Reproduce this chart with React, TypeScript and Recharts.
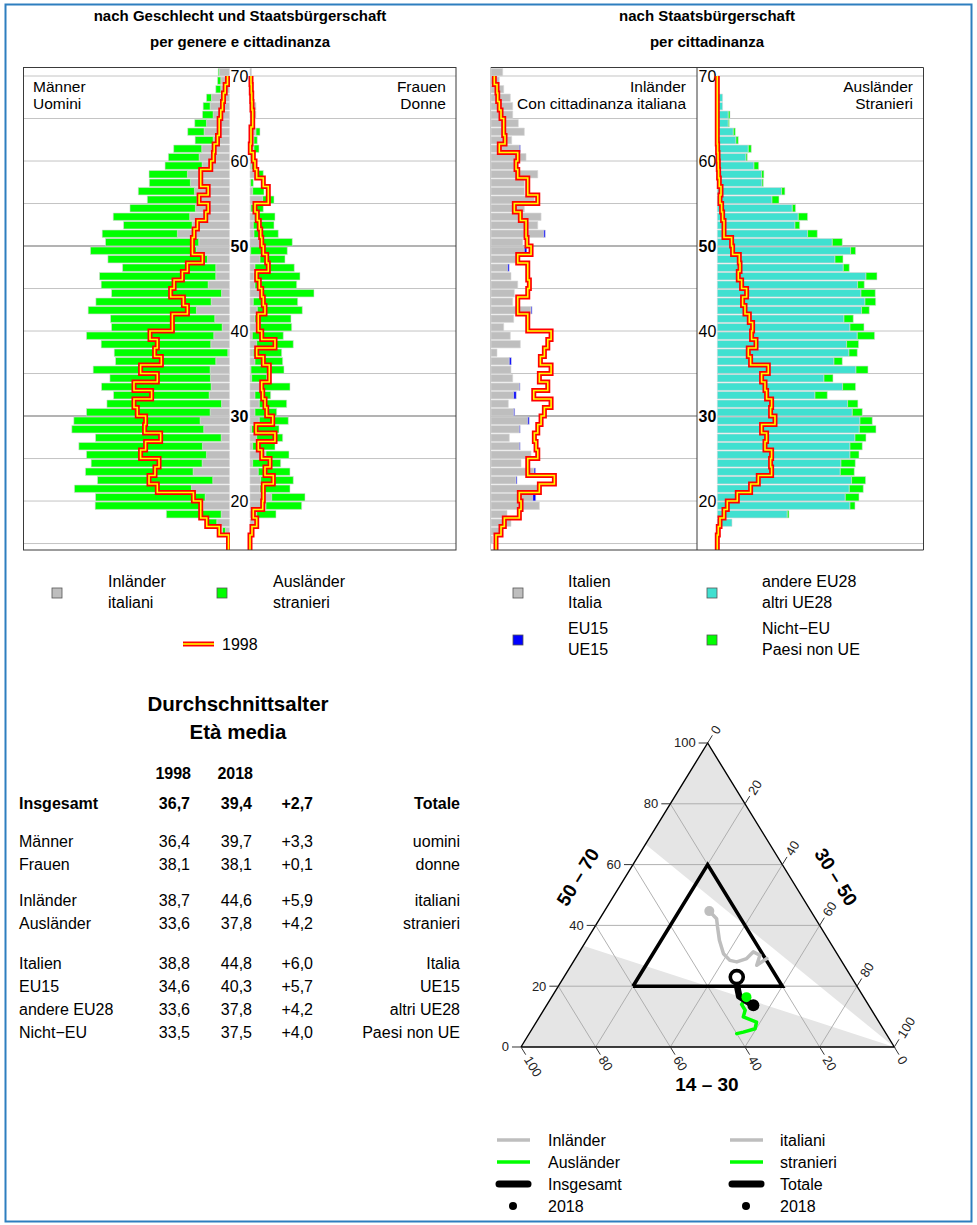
import React from 'react';
import { ComposedChart, Bar, Line, Area, Scatter, XAxis, YAxis, CartesianGrid } from 'recharts';

const FONT = '"Liberation Sans", Arial, Helvetica, sans-serif';

// ---------------- Age pyramids (values in px-units) ----------------
const ages = [15, 16, 17, 18, 19, 20, 21, 22, 23, 24, 25, 26, 27, 28, 29, 30, 31, 32, 33, 34, 35, 36, 37, 38, 39, 40, 41, 42, 43, 44, 45, 46, 47, 48, 49, 50, 51, 52, 53, 54, 55, 56, 57, 58, 59, 60, 61, 62, 63, 64, 65, 66, 67, 68, 69, 70];

const menInlaender = [0, 4, 12.7, 8.3, 26.3, 24.3, 38, 16.7, 36.3, 27.3, 23, 27, 8.3, 25.7, 29.3, 19.3, 8, 20.3, 18.3, 19, 19.3, 13.7, 1.7, 18.7, 15.7, 7.3, 14.7, 33, 18.3, 8, 21.3, 13.7, 13.7, 22, 33, 30.7, 52, 37.3, 39.7, 34, 32.3, 35, 39, 42, 27.3, 30.3, 27.7, 16.3, 25.3, 23, 16.3, 19.3, 18, 8.7, 8.7, 10.3];
const menAuslaender = [0, 3, 9.3, 54.7, 107.7, 109.4, 116.7, 115, 107.4, 110.7, 119.7, 123.3, 125.4, 131.6, 126, 123.4, 114.3, 95.4, 109.4, 100.3, 116.7, 100, 113.3, 109.3, 127, 110.4, 104, 108, 115, 109.7, 106.7, 116, 93, 99.3, 105.7, 93, 75, 68.4, 76.3, 65.3, 49.7, 56, 41, 38.3, 37, 30.7, 28, 18, 16.4, 11.7, 10.7, 7, 5, 5, 3.3, 1];
const men1998 = [1, 10.3, 22.7, 28.7, 28.7, 36, 72, 80.3, 74.3, 70.3, 88.7, 83.7, 68.7, 84.7, 83.7, 92, 95.3, 77.7, 95.3, 72, 88.7, 68, 74.7, 72, 79.3, 57, 57, 42, 46, 58.7, 55.3, 47, 42, 27, 37, 37, 35.3, 32, 23.7, 21.3, 30.3, 21.3, 28.7, 28.7, 18.7, 16, 15.3, 12, 10.3, 10.3, 8.7, 7, 6, 4.3, 2, 1];

const womenInlaender = [0, 2.7, 4, 6.7, 16, 21.7, 10, 10.7, 8.3, 2.7, 16, 2.7, 6.7, 1.7, 9.3, 5, 9.3, 5, 11.7, 1.7, 1, 5, 3.3, 6.7, 2.3, 6, 5, 7.3, 3.3, 13.3, 5, 4, 5, 10, 0.7, 10.7, 4, 3.3, 4.3, 1, 12.7, 2.7, 0.7, 5, 1.7, 0.7, 4, 4, 6, 1, 6, 6, 3, 1, 0.5, 1.5];
const womenAuslaender = [0, 0, 0, 19.3, 35.7, 33.3, 30, 32.6, 31.7, 28, 23, 22.3, 26, 27.3, 29, 21.7, 27.4, 15.7, 28.3, 15, 33, 27.7, 28.4, 36.6, 31, 35.7, 36, 45, 44.4, 50.7, 41.7, 46, 39.3, 25, 36.6, 31.6, 24.3, 20.7, 20.7, 12.3, 11.3, 11.3, 2.6, 8.3, 2.3, 2.6, 5, 3.3, 4, 0, 0, 0, 0, 0, 0, 0];
const women1998 = [0, 2, 6.7, 3.3, 12.7, 13.3, 13.3, 23.3, 15, 20, 11.7, 8.3, 25, 6, 22.7, 16.7, 15, 12.7, 11.7, 19.3, 19.3, 13.3, 6.7, 25, 11.7, 8.3, 8.3, 15, 13.3, 11.7, 9.3, 6.7, 18.3, 16.7, 13.3, 11.7, 10.7, 9.3, 7.3, 5, 18.3, 18.3, 13.3, 6.7, 5, 3.3, 0.3, 1, 1, 2.7, 2.7, 2, 1.7, 1.3, 1, 0.5];

const inlItalien = [1.7, 10.7, 20, 16, 48.3, 41.7, 46.7, 25, 43, 30, 40, 28.3, 18.3, 28.3, 36.7, 22.7, 17.3, 22.7, 28.3, 21.7, 20, 18.3, 6, 29.3, 19.3, 12.7, 22.7, 40, 21.7, 23.3, 26.7, 20, 16.7, 25, 33.3, 31.7, 52.7, 46.7, 50, 33.3, 43.3, 33.3, 33.3, 46.7, 23.3, 35, 28.3, 20.7, 33.3, 27.3, 21.7, 21.7, 19.3, 12.7, 8.3, 11.7];
const inlEU15 = [0, 0, 0, 0, 0, 3, 0, 1, 1.5, 0, 0, 0.8, 0, 0.8, 1.5, 1, 0, 2.5, 0.7, 0, 0, 2, 0, 0, 0, 0, 0, 1, 0, 0, 0, 0, 1.5, 0, 2.5, 0, 1.5, 0, 0, 0, 0, 0, 0, 0, 1.7, 0, 1, 0, 0, 0, 0, 0, 0, 0, 0, 0];
const inl1998 = [5, 10, 13.3, 28.3, 30, 28.3, 48.3, 63.3, 36.7, 36.7, 46.7, 45, 43.3, 46.7, 50, 53.3, 60, 42.7, 56.7, 48.3, 60, 49.3, 53.3, 56.7, 60, 36.7, 36.7, 26.7, 26.7, 36.7, 38.3, 36.7, 36.7, 26.7, 40, 36, 35, 35, 29.3, 23.3, 46.7, 36.7, 36.7, 26.7, 25, 26.7, 8.3, 14, 12.7, 12.7, 10, 8.3, 6.7, 6, 3.3, 1.7];

const auslEU28 = [0, 0, 14.7, 70, 132.7, 128, 132, 134.3, 123, 123.7, 132.7, 132.7, 137.7, 142, 142.7, 135, 130.3, 97.7, 125.3, 106.7, 138.7, 116.7, 131.7, 129.3, 140, 132.7, 126.7, 144.3, 147.7, 143.7, 140.3, 148.7, 126, 117.7, 133.3, 115, 90.3, 77.7, 81, 75, 54.7, 64.3, 44.7, 44.3, 36.7, 28.7, 31, 18.7, 16, 11, 11, 5.3, 5.3, 1, 0.5, 0];
const auslNichtEU = [0, 0, 0, 1.7, 5, 13.7, 14, 14, 14, 14.3, 9, 12.3, 11, 16.7, 12.3, 10, 10.3, 12.3, 13, 9, 12, 8.3, 8.3, 12, 17.3, 14, 9.3, 7.7, 10.7, 14.3, 6.7, 11, 6, 8, 5, 10, 9.7, 4.7, 9.3, 3.3, 7, 3.3, 1.3, 2.3, 4.7, 1.3, 3, 2.3, 2, 1, 1.7, 0, 0, 0, 0, 0];
const ausl1998 = [0, 1, 2.7, 6.7, 10, 20, 33.3, 41, 54.3, 53.3, 54.3, 47.7, 49.3, 44.3, 57.7, 53.3, 54.3, 49.3, 47.7, 44.3, 51, 33.3, 31, 38.7, 34.3, 35.3, 32, 27.7, 25.3, 29.3, 24.3, 21, 22.7, 22, 15.3, 14.3, 6.7, 6.7, 5.3, 4.3, 2.7, 3.7, 2, 1.3, 1, 0.7, 0.3, 0, 0, 0, 0, 0, 0, 0, 0, 0];

const ageTicks = [20, 30, 40, 50, 60, 70];
const gridAges = [15, 20, 25, 35, 40, 45, 55, 60, 65, 70];
const boldAges = [30, 50];

const Y_MIN = 14.24;
const Y_MAX = 71.06;
const X_MAX = 206;
const PYR_H = 483;

const C_GRAY = '#bebebe';
const C_GREEN = '#00ff00';
const C_TURQ = '#40e0d0';
const C_BLUE = '#0000ff';

function barData(s0: number[], s1: number[]) {
  return ages.map((a, i) => ({ y: a + 0.5, s0: s0[i], s1: s1[i] }));
}

function stepData(values: number[]) {
  const pts: { y: number; v: number }[] = [];
  ages.forEach((a, i) => {
    if (a < 70) pts.push({ y: a === 15 ? Y_MIN : a, v: values[i] });
  });
  pts.push({ y: 70, v: values[ages.indexOf(69)] });
  return pts;
}

const AgeTick = (props: any) => {
  const { y, payload } = props;
  const v = payload.value;
  const bold = v === 30 || v === 50;
  return (
    <text x={10.5} y={y} textAnchor="middle" dominantBaseline="central" fontSize={16} fontWeight={bold ? 'bold' : 'normal'} fill="#000">
      {v}
    </text>
  );
};

function Pyramid(props: { s0: number[]; s1: number[]; c0: string; c1: string; line: number[]; reversed?: boolean; axisWidth?: number; width: number }) {
  const { s0, s1, c0, c1, line, reversed, axisWidth, width } = props;
  const showAxis = !!axisWidth;
  const sd = stepData(line);
  const margin = { top: 0, right: 0, bottom: 0, left: 0 };
  return (
    <div style={{ position: 'relative', width, height: PYR_H }}>
      <ComposedChart layout="vertical" width={width} height={PYR_H} data={barData(s0, s1)} margin={margin}>
        <CartesianGrid horizontal vertical={false} horizontalValues={gridAges} stroke="#c4c4c4" strokeWidth={1} />
        <CartesianGrid horizontal vertical={false} horizontalValues={boldAges} stroke="#9a9a9a" strokeWidth={1.6} />
        <XAxis type="number" domain={[0, X_MAX]} reversed={reversed} hide />
        <YAxis
          type="number"
          dataKey="y"
          domain={[Y_MIN, Y_MAX]}
          reversed
          hide={!showAxis}
          width={axisWidth || 0}
          ticks={ageTicks}
          interval={0}
          axisLine={false}
          tickLine={false}
          tick={(p: any) => <AgeTick {...p} />}
        />
        <Bar dataKey="s0" stackId="s" fill={c0} stroke="#d8d8d8" strokeWidth={0.6} barSize={7.4} isAnimationActive={false} legendType="none" />
        <Bar dataKey="s1" stackId="s" fill={c1} stroke="#d8d8d8" strokeWidth={0.6} barSize={7.4} isAnimationActive={false} legendType="none" />
      </ComposedChart>
      <div style={{ position: 'absolute', left: 0, top: 0 }}>
        <ComposedChart layout="vertical" width={width} height={PYR_H} data={sd} margin={margin}>
          <XAxis type="number" domain={[0, X_MAX]} reversed={reversed} hide />
          <YAxis
            type="number"
            dataKey="y"
            domain={[Y_MIN, Y_MAX]}
            reversed
            hide={!showAxis}
            width={axisWidth || 0}
            tick={false}
            axisLine={false}
            tickLine={false}
          />
          <Line dataKey="v" type="stepBefore" stroke="#ff0000" strokeWidth={5} dot={false} activeDot={false} isAnimationActive={false} legendType="none" />
          <Line dataKey="v" type="stepBefore" stroke="#ffff00" strokeWidth={1.6} dot={false} activeDot={false} isAnimationActive={false} legendType="none" />
        </ComposedChart>
      </div>
    </div>
  );
}

// ---------------- Ternary diagram (shares in %: 14–30, 30–50, 50–70) ----------------
const inlShare1430 = [19.7, 23.4, 20.9, 22.1, 25.0, 28.3, 29.8, 30.5, 29.3, 27.7, 26.5, 27.2];
const inlShare3050 = [51.3, 49.7, 48.9, 46.6, 45.9, 43.8, 41.7, 38.9, 35.6, 32.9, 31.3, 28.1];
const inlShare5070 = [29.1, 26.9, 30.2, 31.3, 29.1, 28.0, 28.5, 30.7, 35.1, 39.5, 42.2, 44.7];

const auslShare1430 = [40.0, 38.0, 34.3, 32.8, 35.5, 34.0, 33.9, 31.3];
const auslShare3050 = [55.6, 57.1, 59.7, 59.0, 54.6, 54.0, 52.1, 52.2];
const auslShare5070 = [4.4, 4.9, 6.0, 8.2, 9.9, 12.1, 14.0, 16.4];

const totShare1430 = [30.9, 32.3, 33.2, 32.2, 30.7];
const totShare3050 = [55.4, 52.3, 50.1, 48.1, 46.3];
const totShare5070 = [13.7, 15.4, 16.7, 19.7, 23.0];

const ternTicks = [0, 20, 40, 60, 80, 100];
const ternGrid = [20, 40, 60, 80];
const innerTriangle = [[60, 20, 20], [20, 60, 20], [20, 20, 60], [60, 20, 20]];
const outerTriangle = [[100, 0, 0], [0, 100, 0], [0, 0, 100], [100, 0, 0]];
const shadeUpper = 2 / 3;
const shadeLower = 1 / 3;

const TW = 373.3;
const TH = 304;
const TM = 60;

function tern(a: number, b: number, c: number) {
  return { x: (b + c / 2) / 100, y: c / 100 };
}
function trajectory(A: number[], B: number[], C: number[]) {
  return A.map((a, i) => tern(a, B[i], C[i]));
}

const inlPath = trajectory(inlShare1430, inlShare3050, inlShare5070);
const auslPath = trajectory(auslShare1430, auslShare3050, auslShare5070);
const totPath = trajectory(totShare1430, totShare3050, totShare5070);

const gridSegments: { x: number; y: number }[][] = [];
ternGrid.forEach((k) => {
  gridSegments.push([tern(100 - k, 0, k), tern(0, 100 - k, k)]);
  gridSegments.push([tern(0, k, 100 - k), tern(100 - k, k, 0)]);
  gridSegments.push([tern(k, 0, 100 - k), tern(k, 100 - k, 0)]);
});

const upperShade = (() => {
  const t = shadeUpper;
  const low = (x: number) => (t * (1 - x)) / (1 - t / 2);
  return [t / 2, 0.5, 1].map((x) => ({ x, r: [low(x), Math.min(2 * x, 2 * (1 - x))] }));
})();
const lowerShade = (() => {
  const t = shadeLower;
  const high = (x: number) => (x <= t / 2 ? 2 * x : (t * (1 - x)) / (1 - t / 2));
  return [0, t / 2, 1].map((x) => ({ x, r: [0, high(x)] }));
})();

const tickPoints: any[] = [];
ternTicks.forEach((k) => {
  tickPoints.push({ ...tern(100 - k, 0, k), label: String(k), side: 'L' });
  tickPoints.push({ ...tern(0, k, 100 - k), label: String(k), side: 'R' });
  tickPoints.push({ ...tern(k, 100 - k, 0), label: String(k), side: 'B' });
});

const dirLen = Math.hypot(TW / 2, TH);
const DIR_R = { dx: TW / 2 / dirLen, dy: -TH / dirLen };
const DIR_B = { dx: TW / 2 / dirLen, dy: TH / dirLen };
const ANG = (Math.atan2(TH, TW / 2) * 180) / Math.PI;

const TickShape = (props: any) => {
  const { cx, cy, payload } = props;
  if (cx == null || cy == null) return null;
  const side = payload.side;
  let d = { dx: -1, dy: 0 };
  if (side === 'R') d = DIR_R;
  if (side === 'B') d = DIR_B;
  const L = 9;
  const tx = cx + d.dx * (L + 3);
  const ty = cy + d.dy * (L + 3);
  const rot = side === 'R' ? -ANG : side === 'B' ? ANG : 0;
  return (
    <g>
      <line x1={cx} y1={cy} x2={cx + d.dx * L} y2={cy + d.dy * L} stroke="#333" strokeWidth={1} />
      <text
        x={tx}
        y={ty}
        fontSize={13}
        fill="#222"
        textAnchor={side === 'L' ? 'end' : 'start'}
        dominantBaseline="central"
        transform={rot ? `rotate(${rot} ${tx} ${ty})` : undefined}
      >
        {payload.label}
      </text>
    </g>
  );
};

function Ternary() {
  const lastInl = inlPath[inlPath.length - 1];
  const lastAusl = auslPath[auslPath.length - 1];
  const lastTot = totPath[totPath.length - 1];
  const firstTot = totPath[0];
  return (
    <ComposedChart width={TW + 2 * TM} height={TH + 2 * TM} margin={{ top: TM, right: TM, bottom: TM, left: TM }}>
      <XAxis type="number" dataKey="x" domain={[0, 1]} hide />
      <YAxis type="number" dataKey="y" domain={[0, 1]} hide />
      <Area data={upperShade} dataKey="r" type="linear" fill="#e5e5e5" fillOpacity={1} stroke="none" isAnimationActive={false} legendType="none" activeDot={false} />
      <Area data={lowerShade} dataKey="r" type="linear" fill="#e5e5e5" fillOpacity={1} stroke="none" isAnimationActive={false} legendType="none" activeDot={false} />
      {gridSegments.map((seg, i) => (
        <Line key={'g' + i} data={seg} dataKey="y" type="linear" stroke="#a8a8a8" strokeWidth={0.9} dot={false} activeDot={false} isAnimationActive={false} legendType="none" />
      ))}
      <Line data={outerTriangle.map((p) => tern(p[0], p[1], p[2]))} dataKey="y" type="linear" stroke="#000" strokeWidth={1.4} dot={false} activeDot={false} isAnimationActive={false} legendType="none" />
      <Line data={innerTriangle.map((p) => tern(p[0], p[1], p[2]))} dataKey="y" type="linear" stroke="#000" strokeWidth={3.6} strokeLinejoin="miter" dot={false} activeDot={false} isAnimationActive={false} legendType="none" />
      <Line data={inlPath} dataKey="y" type="linear" stroke={C_GRAY} strokeWidth={3.5} strokeLinecap="round" strokeLinejoin="round" dot={false} activeDot={false} isAnimationActive={false} legendType="none" />
      <Line data={auslPath} dataKey="y" type="linear" stroke={C_GREEN} strokeWidth={3.5} strokeLinecap="round" strokeLinejoin="round" dot={false} activeDot={false} isAnimationActive={false} legendType="none" />
      <Line data={totPath} dataKey="y" type="linear" stroke="#000" strokeWidth={6.5} strokeLinecap="round" strokeLinejoin="round" dot={false} activeDot={false} isAnimationActive={false} legendType="none" />
      <Scatter data={[lastInl]} isAnimationActive={false} legendType="none" shape={(p: any) => <circle cx={p.cx} cy={p.cy} r={5} fill={C_GRAY} />} />
      <Scatter data={[lastAusl]} isAnimationActive={false} legendType="none" shape={(p: any) => <circle cx={p.cx} cy={p.cy} r={5} fill={C_GREEN} />} />
      <Scatter data={[firstTot]} isAnimationActive={false} legendType="none" shape={(p: any) => <circle cx={p.cx} cy={p.cy} r={6} fill="#000" />} />
      <Scatter data={[lastTot]} isAnimationActive={false} legendType="none" shape={(p: any) => <circle cx={p.cx} cy={p.cy} r={6.5} fill="#fff" stroke="#000" strokeWidth={3.6} />} />
      <Scatter data={tickPoints} isAnimationActive={false} legendType="none" shape={(p: any) => <TickShape {...p} />} />
    </ComposedChart>
  );
}

// ---------------- Table ----------------
const tableLabelsDe = ['Insgesamt', 'Männer', 'Frauen', 'Inländer', 'Ausländer', 'Italien', 'EU15', 'andere EU28', 'Nicht−EU'];
const tableLabelsIt = ['Totale', 'uomini', 'donne', 'italiani', 'stranieri', 'Italia', 'UE15', 'altri UE28', 'Paesi non UE'];
const avg1998 = ['36,7', '36,4', '38,1', '38,7', '33,6', '38,8', '34,6', '33,6', '33,5'];
const avg2018 = ['39,4', '39,7', '38,1', '44,6', '37,8', '44,8', '40,3', '37,8', '37,5'];
const avgDiff = ['+2,7', '+3,3', '+0,1', '+5,9', '+4,2', '+6,0', '+5,7', '+4,2', '+4,0'];
const tableRowY = [803, 841, 864, 900, 923, 963, 986, 1009, 1032];

const T = (p: { x: number; y: number; children: any; anchor?: string; size?: number; bold?: boolean; rot?: number; fill?: string }) => (
  <text
    x={p.x}
    y={p.y}
    textAnchor={(p.anchor as any) || 'start'}
    dominantBaseline="central"
    fontSize={p.size || 16}
    fontWeight={p.bold ? 'bold' : 'normal'}
    fill={p.fill || '#000'}
    transform={p.rot ? `rotate(${p.rot} ${p.x} ${p.y})` : undefined}
  >
    {p.children}
  </text>
);

const Sq = ({ x, y, fill }: { x: number; y: number; fill: string }) => (
  <rect x={x - 5} y={y - 5} width={10} height={10} fill={fill} stroke="#555" strokeWidth={0.8} />
);

export default function App() {
  return (
    <div style={{ position: 'absolute', left: 0, top: 0, width: 977, height: 1225, background: '#fff', fontFamily: FONT, overflow: 'hidden' }}>
      <div style={{ position: 'absolute', left: 23, top: 67 }}>
        <Pyramid s0={menInlaender} s1={menAuslaender} c0={C_GRAY} c1={C_GREEN} line={men1998} reversed width={206.5} />
      </div>
      <div style={{ position: 'absolute', left: 229, top: 67 }}>
        <Pyramid s0={womenInlaender} s1={womenAuslaender} c0={C_GRAY} c1={C_GREEN} line={women1998} axisWidth={21} width={227} />
      </div>
      <div style={{ position: 'absolute', left: 490.7, top: 67 }}>
        <Pyramid s0={inlItalien} s1={inlEU15} c0={C_GRAY} c1={C_BLUE} line={inl1998} width={206.3} />
      </div>
      <div style={{ position: 'absolute', left: 697, top: 67 }}>
        <Pyramid s0={auslEU28} s1={auslNichtEU} c0={C_TURQ} c1={C_GREEN} line={ausl1998} axisWidth={20.3} width={226.3} />
      </div>
      <div style={{ position: 'absolute', left: 521 - TM, top: 742.7 - TM }}>
        <Ternary />
      </div>

      <svg width={977} height={1225} style={{ position: 'absolute', left: 0, top: 0, pointerEvents: 'none' }} fontFamily={FONT}>
        <rect x={5.5} y={4.5} width={966} height={1217} fill="none" stroke="#2e7ebf" strokeWidth={2} />

        <rect x={23.5} y={67.5} width={432.5} height={482.5} fill="none" stroke="#3a3a3a" strokeWidth={1} />
        <line x1={490.7} y1={67.5} x2={923.5} y2={67.5} stroke="#3a3a3a" strokeWidth={1} />
        <line x1={490.7} y1={550} x2={923.5} y2={550} stroke="#3a3a3a" strokeWidth={1} />
        <line x1={923.5} y1={67.5} x2={923.5} y2={550} stroke="#3a3a3a" strokeWidth={1} />
        <line x1={697} y1={67.5} x2={697} y2={550} stroke="#3a3a3a" strokeWidth={1} />
        <line x1={490.5} y1={67.5} x2={490.5} y2={550} stroke="#c8c8c8" strokeWidth={1} />

        <T x={240} y={15} anchor="middle" size={15} bold>nach Geschlecht und Staatsbürgerschaft</T>
        <T x={240} y={41} anchor="middle" size={15} bold>per genere e cittadinanza</T>
        <T x={707} y={15} anchor="middle" size={15} bold>nach Staatsbürgerschaft</T>
        <T x={707} y={41} anchor="middle" size={15} bold>per cittadinanza</T>

        <T x={33} y={86} size={15.5}>Männer</T>
        <T x={33} y={103} size={15.5}>Uomini</T>
        <T x={446} y={86} anchor="end" size={15.5}>Frauen</T>
        <T x={446} y={103} anchor="end" size={15.5}>Donne</T>
        <T x={686} y={86} anchor="end" size={15.5}>Inländer</T>
        <T x={686} y={103} anchor="end" size={15.5}>Con cittadinanza italiana</T>
        <T x={913} y={86} anchor="end" size={15.5}>Ausländer</T>
        <T x={913} y={103} anchor="end" size={15.5}>Stranieri</T>

        <Sq x={57} y={593} fill={C_GRAY} />
        <T x={108} y={581}>Inländer</T>
        <T x={108} y={602}>italiani</T>
        <Sq x={222} y={593} fill={C_GREEN} />
        <T x={273} y={581}>Ausländer</T>
        <T x={273} y={602}>stranieri</T>
        <line x1={183} y1={644} x2={214} y2={644} stroke="#ff0000" strokeWidth={5} />
        <line x1={183} y1={644} x2={214} y2={644} stroke="#ffff00" strokeWidth={1.6} />
        <T x={222} y={644}>1998</T>

        <Sq x={518} y={593} fill={C_GRAY} />
        <T x={568} y={581}>Italien</T>
        <T x={568} y={602}>Italia</T>
        <Sq x={712} y={593} fill={C_TURQ} />
        <T x={762} y={581}>andere EU28</T>
        <T x={762} y={602}>altri UE28</T>
        <Sq x={518} y={640} fill={C_BLUE} />
        <T x={568} y={628}>EU15</T>
        <T x={568} y={649}>UE15</T>
        <Sq x={712} y={640} fill={C_GREEN} />
        <T x={762} y={628}>Nicht−EU</T>
        <T x={762} y={649}>Paesi non UE</T>

        <T x={238} y={703} anchor="middle" size={20.5} bold>Durchschnittsalter</T>
        <T x={238} y={731} anchor="middle" size={20.5} bold>Età media</T>
        <T x={191} y={773} anchor="end" bold>1998</T>
        <T x={253} y={773} anchor="end" bold>2018</T>
        {tableLabelsDe.map((lab, i) => (
          <g key={lab}>
            <T x={19} y={tableRowY[i]} bold={i === 0}>{lab}</T>
            <T x={190} y={tableRowY[i]} anchor="end" bold={i === 0}>{avg1998[i]}</T>
            <T x={252} y={tableRowY[i]} anchor="end" bold={i === 0}>{avg2018[i]}</T>
            <T x={313} y={tableRowY[i]} anchor="end" bold={i === 0}>{avgDiff[i]}</T>
            <T x={460} y={tableRowY[i]} anchor="end" bold={i === 0}>{tableLabelsIt[i]}</T>
          </g>
        ))}

        <T x={578} y={877} anchor="middle" size={19} bold rot={-ANG}>50 – 70</T>
        <T x={836} y={877} anchor="middle" size={19} bold rot={ANG}>30 – 50</T>
        <T x={707} y={1084} anchor="middle" size={19} bold>14 – 30</T>

        <line x1={497} y1={1140} x2={530} y2={1140} stroke={C_GRAY} strokeWidth={3.5} />
        <T x={548} y={1140}>Inländer</T>
        <line x1={497} y1={1162} x2={530} y2={1162} stroke={C_GREEN} strokeWidth={3.5} />
        <T x={548} y={1162}>Ausländer</T>
        <line x1={499} y1={1184} x2={528} y2={1184} stroke="#000" strokeWidth={7} strokeLinecap="round" />
        <T x={548} y={1184}>Insgesamt</T>
        <circle cx={513} cy={1206} r={4} fill="#000" />
        <T x={548} y={1206}>2018</T>

        <line x1={730} y1={1140} x2={763} y2={1140} stroke={C_GRAY} strokeWidth={3.5} />
        <T x={780} y={1140}>italiani</T>
        <line x1={730} y1={1162} x2={763} y2={1162} stroke={C_GREEN} strokeWidth={3.5} />
        <T x={780} y={1162}>stranieri</T>
        <line x1={732} y1={1184} x2={761} y2={1184} stroke="#000" strokeWidth={7} strokeLinecap="round" />
        <T x={780} y={1184}>Totale</T>
        <circle cx={746} cy={1206} r={4} fill="#000" />
        <T x={780} y={1206}>2018</T>
      </svg>
    </div>
  );
}
